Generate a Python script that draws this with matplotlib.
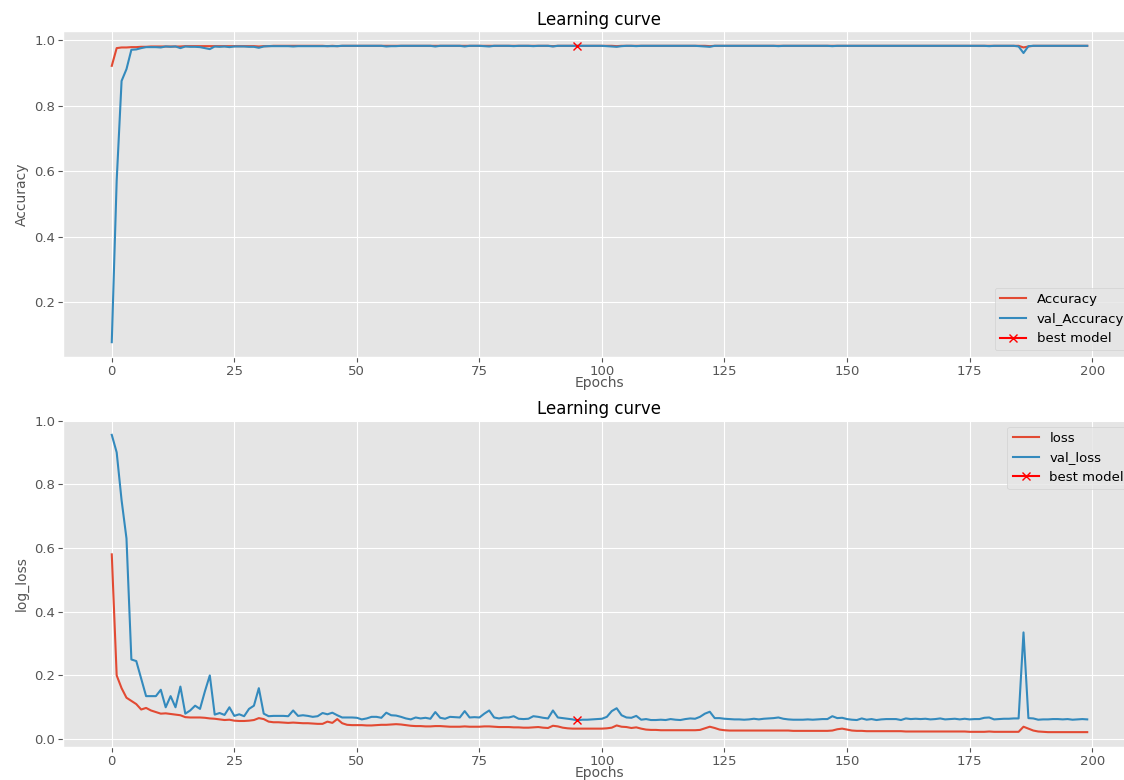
import matplotlib
matplotlib.use("Agg")
import matplotlib.pyplot as plt
import numpy as np

plt.style.use("ggplot")

epochs = list(range(200))

accuracy = [
    0.921, 0.975, 0.977, 0.977, 0.978, 0.978, 0.979, 0.979, 0.980, 0.980,
    0.980, 0.980, 0.980, 0.980, 0.980, 0.981, 0.981, 0.981, 0.981, 0.981,
    0.981, 0.981, 0.981, 0.981, 0.981, 0.981, 0.981, 0.981, 0.981, 0.981,
    0.980, 0.981, 0.981, 0.982, 0.982, 0.982, 0.982, 0.982, 0.982, 0.982,
    0.982, 0.982, 0.982, 0.982, 0.981, 0.982, 0.981, 0.982, 0.982, 0.982,
    0.982, 0.982, 0.982, 0.982, 0.982, 0.982, 0.982, 0.982, 0.982, 0.982,
    0.982, 0.982, 0.982, 0.982, 0.982, 0.982, 0.982, 0.982, 0.982, 0.982,
    0.982, 0.982, 0.982, 0.982, 0.982, 0.982, 0.982, 0.982, 0.982, 0.982,
    0.982, 0.982, 0.982, 0.982, 0.982, 0.982, 0.982, 0.982, 0.982, 0.982,
    0.981, 0.982, 0.982, 0.982, 0.982, 0.982, 0.982, 0.982, 0.982, 0.982,
    0.982, 0.982, 0.982, 0.981, 0.982, 0.982, 0.982, 0.982, 0.982, 0.982,
    0.982, 0.982, 0.982, 0.982, 0.982, 0.982, 0.982, 0.982, 0.982, 0.982,
    0.982, 0.982, 0.981, 0.982, 0.982, 0.982, 0.982, 0.982, 0.982, 0.982,
    0.982, 0.982, 0.982, 0.982, 0.982, 0.982, 0.982, 0.982, 0.982, 0.982,
    0.982, 0.982, 0.982, 0.982, 0.982, 0.982, 0.982, 0.982, 0.982, 0.982,
    0.982, 0.982, 0.982, 0.982, 0.982, 0.982, 0.982, 0.982, 0.982, 0.982,
    0.982, 0.982, 0.982, 0.982, 0.982, 0.982, 0.982, 0.982, 0.982, 0.982,
    0.982, 0.982, 0.982, 0.982, 0.982, 0.982, 0.982, 0.982, 0.982, 0.982,
    0.982, 0.982, 0.982, 0.982, 0.982, 0.982, 0.977, 0.980, 0.982, 0.982,
    0.982, 0.982, 0.982, 0.982, 0.982, 0.982, 0.982, 0.982, 0.982, 0.982,
]

val_accuracy = [
    0.079, 0.571, 0.875, 0.911, 0.970, 0.971, 0.975, 0.978, 0.978, 0.978,
    0.977, 0.980, 0.979, 0.980, 0.975, 0.980, 0.979, 0.979, 0.978, 0.975,
    0.972, 0.980, 0.979, 0.980, 0.978, 0.980, 0.980, 0.980, 0.979, 0.979,
    0.976, 0.980, 0.981, 0.981, 0.981, 0.981, 0.981, 0.980, 0.981, 0.981,
    0.981, 0.981, 0.981, 0.981, 0.981, 0.981, 0.981, 0.982, 0.982, 0.982,
    0.982, 0.982, 0.982, 0.982, 0.982, 0.982, 0.980, 0.981, 0.981, 0.982,
    0.982, 0.982, 0.982, 0.982, 0.982, 0.982, 0.980, 0.982, 0.982, 0.982,
    0.982, 0.982, 0.980, 0.982, 0.982, 0.982, 0.981, 0.980, 0.982, 0.982,
    0.982, 0.982, 0.981, 0.982, 0.982, 0.982, 0.981, 0.982, 0.982, 0.982,
    0.980, 0.982, 0.982, 0.982, 0.982, 0.982, 0.982, 0.982, 0.982, 0.982,
    0.982, 0.981, 0.980, 0.979, 0.981, 0.982, 0.982, 0.981, 0.982, 0.982,
    0.982, 0.982, 0.982, 0.982, 0.982, 0.982, 0.982, 0.982, 0.982, 0.982,
    0.981, 0.980, 0.979, 0.982, 0.982, 0.982, 0.982, 0.982, 0.982, 0.982,
    0.982, 0.982, 0.982, 0.982, 0.982, 0.982, 0.981, 0.982, 0.982, 0.982,
    0.982, 0.982, 0.982, 0.982, 0.982, 0.982, 0.982, 0.981, 0.982, 0.982,
    0.982, 0.982, 0.982, 0.982, 0.982, 0.982, 0.982, 0.982, 0.982, 0.982,
    0.982, 0.982, 0.982, 0.982, 0.982, 0.982, 0.982, 0.982, 0.982, 0.982,
    0.982, 0.982, 0.982, 0.982, 0.982, 0.982, 0.982, 0.982, 0.982, 0.981,
    0.982, 0.982, 0.982, 0.982, 0.982, 0.980, 0.960, 0.981, 0.982, 0.982,
    0.982, 0.982, 0.982, 0.982, 0.982, 0.982, 0.982, 0.982, 0.982, 0.982,
]

loss = [
    0.580, 0.200, 0.160, 0.130, 0.120, 0.110, 0.093, 0.098, 0.090, 0.085,
    0.080, 0.081, 0.079, 0.077, 0.075, 0.069, 0.068, 0.068, 0.068, 0.067,
    0.065, 0.064, 0.062, 0.060, 0.061, 0.058, 0.057, 0.057, 0.058, 0.060,
    0.066, 0.063, 0.055, 0.053, 0.053, 0.052, 0.051, 0.052, 0.051, 0.050,
    0.050, 0.049, 0.048, 0.048, 0.055, 0.051, 0.063, 0.050, 0.045, 0.044,
    0.044, 0.044, 0.043, 0.043, 0.044, 0.045, 0.045, 0.046, 0.047, 0.046,
    0.044, 0.042, 0.041, 0.041, 0.040, 0.040, 0.041, 0.041, 0.040, 0.039,
    0.039, 0.039, 0.040, 0.039, 0.039, 0.039, 0.040, 0.040, 0.039, 0.038,
    0.038, 0.038, 0.037, 0.037, 0.036, 0.036, 0.037, 0.038, 0.036, 0.035,
    0.042, 0.040, 0.036, 0.034, 0.033, 0.033, 0.033, 0.033, 0.033, 0.033,
    0.033, 0.034, 0.036, 0.043, 0.039, 0.038, 0.035, 0.037, 0.033, 0.030,
    0.029, 0.029, 0.028, 0.028, 0.028, 0.028, 0.028, 0.028, 0.028, 0.028,
    0.029, 0.034, 0.039, 0.035, 0.030, 0.028, 0.027, 0.027, 0.027, 0.027,
    0.027, 0.027, 0.027, 0.027, 0.027, 0.027, 0.027, 0.027, 0.027, 0.026,
    0.026, 0.026, 0.026, 0.026, 0.026, 0.026, 0.026, 0.027, 0.031, 0.033,
    0.030, 0.027, 0.026, 0.026, 0.025, 0.025, 0.025, 0.025, 0.025, 0.025,
    0.025, 0.025, 0.024, 0.024, 0.024, 0.024, 0.024, 0.024, 0.024, 0.024,
    0.024, 0.024, 0.024, 0.024, 0.024, 0.023, 0.023, 0.023, 0.023, 0.024,
    0.023, 0.023, 0.023, 0.023, 0.023, 0.023, 0.039, 0.033, 0.027, 0.024,
    0.023, 0.022, 0.022, 0.022, 0.022, 0.022, 0.022, 0.022, 0.022, 0.022,
]

val_loss = [
    0.955, 0.900, 0.750, 0.630, 0.250, 0.245, 0.190, 0.135, 0.135, 0.135,
    0.155, 0.100, 0.135, 0.100, 0.165, 0.080, 0.090, 0.105, 0.095, 0.150,
    0.200, 0.077, 0.082, 0.076, 0.100, 0.073, 0.078, 0.072, 0.095, 0.105,
    0.160, 0.080, 0.072, 0.073, 0.073, 0.073, 0.072, 0.090, 0.073, 0.075,
    0.073, 0.070, 0.072, 0.082, 0.078, 0.083, 0.075, 0.068, 0.068, 0.068,
    0.067, 0.062, 0.065, 0.070, 0.070, 0.067, 0.083, 0.075, 0.074, 0.070,
    0.065, 0.062, 0.068, 0.065, 0.067, 0.064, 0.085, 0.067, 0.064, 0.070,
    0.069, 0.068, 0.088, 0.068, 0.069, 0.068, 0.080, 0.090, 0.068, 0.065,
    0.068, 0.068, 0.072, 0.064, 0.063, 0.064, 0.072, 0.070, 0.067, 0.065,
    0.090, 0.068, 0.066, 0.064, 0.062, 0.059, 0.061, 0.061, 0.062, 0.063,
    0.064, 0.070, 0.088, 0.097, 0.075, 0.068, 0.067, 0.073, 0.061, 0.063,
    0.060, 0.060, 0.061, 0.060, 0.063, 0.061, 0.060, 0.063, 0.065, 0.064,
    0.070, 0.080, 0.086, 0.066, 0.066, 0.064, 0.063, 0.062, 0.062, 0.061,
    0.062, 0.064, 0.062, 0.064, 0.065, 0.066, 0.068, 0.064, 0.062, 0.061,
    0.061, 0.061, 0.062, 0.061, 0.062, 0.063, 0.063, 0.072, 0.066, 0.067,
    0.063, 0.061, 0.060, 0.065, 0.061, 0.063, 0.060, 0.062, 0.063, 0.063,
    0.063, 0.060, 0.065, 0.063, 0.064, 0.063, 0.064, 0.062, 0.063, 0.065,
    0.062, 0.063, 0.064, 0.062, 0.064, 0.062, 0.063, 0.063, 0.067, 0.068,
    0.062, 0.063, 0.064, 0.064, 0.065, 0.065, 0.335, 0.066, 0.065, 0.061,
    0.062, 0.062, 0.063, 0.063, 0.062, 0.063, 0.061, 0.062, 0.063, 0.062,
]

best_epoch = int(np.argmin(val_loss))

W, H = 1124, 780
fig = plt.figure(figsize=(W / 100, H / 100), dpi=100)

left = 63 / W
width = (1136 - 63) / W
ax1 = fig.add_axes([left, 1 - 357 / H, width, (357 - 31) / H])
ax2 = fig.add_axes([left, 1 - 747 / H, width, (747 - 420) / H])

tick_fs = 9.5

for ax in (ax1, ax2):
    ax.tick_params(labelsize=tick_fs, pad=2)

ax1.plot(epochs, accuracy, label="Accuracy", linewidth=1.5)
ax1.plot(epochs, val_accuracy, label="val_Accuracy", linewidth=1.5)
ax1.plot(best_epoch, val_accuracy[best_epoch], marker="x", color="red",
         label="best model")
ax1.set_title("Learning curve", fontsize=12, color="black", pad=4)
ax1.set_xlabel("Epochs", fontsize=10, labelpad=-1)
ax1.set_ylabel("Accuracy", fontsize=10)
ax1.legend(loc="lower right", fontsize=9.5)

ax2.plot(epochs, loss, label="loss", linewidth=1.5)
ax2.plot(epochs, val_loss, label="val_loss", linewidth=1.5)
ax2.plot(best_epoch, val_loss[best_epoch], marker="x", color="red",
         label="best model")
ax2.set_title("Learning curve", fontsize=12, color="black", pad=4)
ax2.set_xlabel("Epochs", fontsize=10, labelpad=-1)
ax2.set_ylabel("log_loss", fontsize=10)
ax2.legend(loc="upper right", fontsize=9.5)

fig.savefig("out.png", dpi=100)
